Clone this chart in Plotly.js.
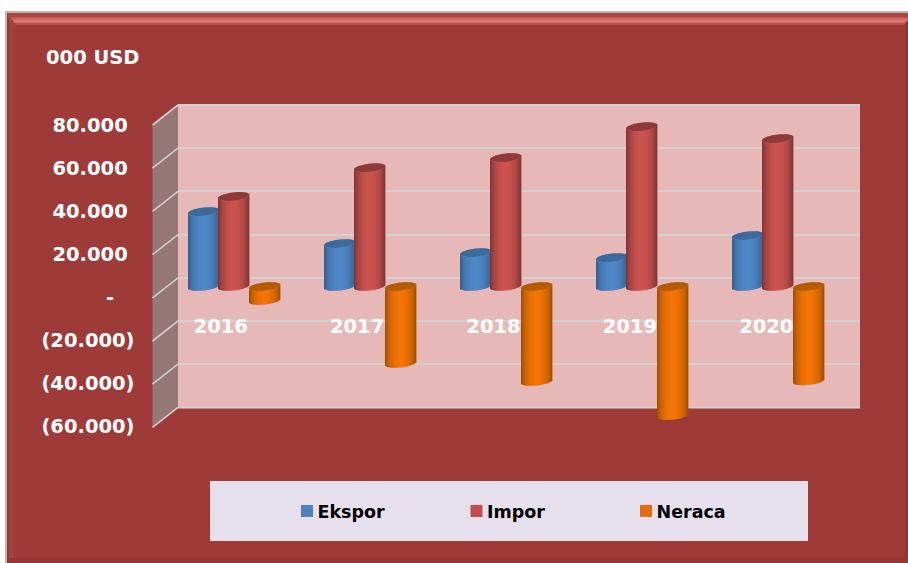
<!DOCTYPE html>
<html>
<head>
<meta charset="utf-8">
<script src="https://cdn.plot.ly/plotly-3.0.1.min.js"></script>
<style>html,body{margin:0;padding:0;background:#fff;overflow:hidden}</style>
</head>
<body>
<div id="chart" style="width:908px;height:563px"></div>
<script>
var years = ['2016', '2017', '2018', '2019', '2020'];
var ekspor = [34700, 19900, 15700, 13400, 23600];
var impor = [41700, 55000, 59700, 74000, 68500];
var neraca = [-6500, -35600, -44000, -59800, -43700];
var seriesNames = ['Ekspor', 'Impor', 'Neraca'];
var tickValues = [80000, 60000, 40000, 20000, 0, -20000, -40000, -60000];
var tickLabels = ['80.000', '60.000', '40.000', '20.000', '-', '(20.000)', '(40.000)', '(60.000)'];

var W = 908, H = 563;
function X(p) { return p / W; }
function Y(p) { return 1 - p / H; }
function domX(a, b) { return [X(a), X(b)]; }
function domY(top, bottom) { return [Y(bottom), Y(top)]; }

var FONT = '"DejaVu Sans", sans-serif';
var STEP = 136;
var STRIPS = 31;
var PER_PX = 20000 / 43.2;
var styles = [
  {main: '#4F81BD', dark: [50, 92, 138], light: [80, 135, 200], cap: [60, 106, 155], left: -46},
  {main: '#C0504D', dark: [122, 50, 48], light: [203, 82, 79], cap: [143, 58, 57], left: -16},
  {main: '#E46C0A', dark: [152, 76, 0], light: [244, 116, 5], cap: [180, 92, 2], left: 15}
];
var seriesValues = [ekspor, impor, neraca];

function rgb(c) { return 'rgb(' + c.map(Math.round).join(',') + ')'; }
function mix(a, b, t) { return a.map(function (v, i) { return v + (b[i] - v) * t; }); }

var traces = [];
seriesValues.forEach(function (vals, s) {
  var st = styles[s];
  // the series itself, carrying the legend entry; the strips below shade it as a cylinder
  traces.push({
    type: 'bar', name: seriesNames[s], x: years, y: vals, xaxis: 'x2', yaxis: 'y2',
    width: 18 / STEP, offset: (st.left + 6.5) / STEP,
    marker: {color: st.main, line: {width: 0}}, hoverinfo: 'skip'
  });
  for (var i = 0; i < STRIPS; i++) {
    var u = (i + 0.5) / STRIPS * 2 - 1;
    var edge = Math.sqrt(1 - u * u);
    var tilt = 1.7 * u, half = 4 * edge;
    var lo = (tilt - half) * PER_PX, hi = (tilt + half) * PER_PX;
    var tops = vals.map(function (v) { return Math.max(v, 0); });
    var bots = vals.map(function (v) { return Math.min(v, 0); });
    var off = (st.left + i) / STEP;
    var wid = 1.4 / STEP;
    traces.push({
      type: 'bar', showlegend: false, x: years, xaxis: 'x2', yaxis: 'y2',
      base: bots.map(function (b) { return b + lo; }),
      y: vals.map(function (v, j) { return tops[j] - bots[j]; }),
      width: wid, offset: off,
      marker: {color: rgb(mix(st.dark, st.light, Math.pow(edge, 1.6))), line: {width: 0}}, hoverinfo: 'skip'
    });
    traces.push({
      type: 'bar', showlegend: false, x: years, xaxis: 'x2', yaxis: 'y2',
      base: tops.map(function (t) { return t + lo; }),
      y: vals.map(function () { return hi - lo; }),
      width: wid, offset: off,
      marker: {color: rgb(mix(st.cap, st.dark, 0.35 * (1 - edge))), line: {width: 0}}, hoverinfo: 'skip'
    });
  }
});
// anchors the front-plane axes that carry the tick labels
traces.push({type: 'scatter', mode: 'none', showlegend: false, x: years, y: years.map(function () { return 0; }),
  xaxis: 'x3', yaxis: 'y3', hoverinfo: 'skip'});
traces.push({type: 'scatter', mode: 'none', showlegend: false, x: [0, 1], y: [0, 0],
  xaxis: 'x', yaxis: 'y', hoverinfo: 'skip'});

function rect(x0, y0, x1, y1, color) {
  return {type: 'rect', layer: 'below', xref: 'paper', yref: 'paper', x0: X(x0), x1: X(x1), y0: Y(y0), y1: Y(y1),
    fillcolor: color, line: {width: 0}};
}
function poly(pts, color) {
  var d = pts.map(function (p, i) { return (i ? 'L' : 'M') + X(p[0]) + ' ' + Y(p[1]); }).join(' ') + ' Z';
  return {type: 'path', layer: 'below', xref: 'paper', yref: 'paper', path: d, fillcolor: color, line: {width: 0}};
}
function hline(x0, x1, py) {
  return {type: 'line', layer: 'below', xref: 'paper', yref: 'paper', x0: X(x0), x1: X(x1), y0: Y(py), y1: Y(py),
    line: {color: '#D4D0D0', width: 2}};
}

var BACK_TOP = 105, BACK_BOT = 407.4, FRONT_TOP = 125, FRONT_BOT = 427.4, BACK_X = 178, FRONT_X = 152.5;
var shapes = [
  rect(5, 11, W, H, '#BDB8B8'),
  rect(7, 13, W, H, '#9E3B39'),
  // bevel
  poly([[7, 13], [W, 13], [W, 17], [7, 17]], '#A94644'),
  poly([[9, 17], [W, 17], [W, 19], [11, 19]], '#C35B59'),
  poly([[11, 19], [W, 19], [W, 23], [14, 23]], '#DA716F'),
  poly([[14, 23], [W - 3, 23], [W - 4, 25], [16, 25]], '#B3504E'),
  poly([[7, 13], [10, 17], [16, 25], [14, 30], [14, H - 5], [7, H]], '#A34341'),
  poly([[7, 17], [9, 20], [9, H - 2], [7, H]], '#973835'),
  poly([[7, H - 5], [W, H - 5], [W, H], [7, H]], '#933735'),
  poly([[W - 3, 23], [W, 20], [W, H], [W - 3, H - 5]], '#933735'),
  // walls
  rect(BACK_X, BACK_TOP, 860, BACK_BOT, '#E6B9B8'),
  poly([[FRONT_X, FRONT_TOP], [BACK_X, BACK_TOP], [BACK_X, BACK_BOT], [FRONT_X, FRONT_BOT]], '#957775'),
  hline(BACK_X, 860, BACK_TOP),
  hline(BACK_X, 860, BACK_BOT),
  // legend panel
  rect(210, 481, 808, 541, '#E6E0EC')
];
tickValues.forEach(function (v) {
  var t = (80000 - v) / 140000;
  shapes.push({type: 'line', layer: 'below', xref: 'paper', yref: 'paper',
    x0: X(FRONT_X), x1: X(BACK_X),
    y0: Y(FRONT_TOP + t * (FRONT_BOT - FRONT_TOP)), y1: Y(BACK_TOP + t * (BACK_BOT - BACK_TOP)),
    line: {color: '#D0CCCC', width: 1.6}});
});

// accounting-style labels: digits and the dash leave room for the closing bracket
function padLabel(t) {
  if (t === '-') return t + '\u00A0\u00A0\u00A0';
  return t.charAt(0) === '(' ? t : t + '\u00A0';
}

var tickFont = {family: FONT, size: 19.5, color: '#FFFFFF', weight: 700};
var layout = {
  width: W, height: H, autosize: false,
  margin: {l: 0, r: 0, t: 0, b: 0, pad: 0},
  paper_bgcolor: '#FFFFFF', plot_bgcolor: 'rgba(0,0,0,0)',
  barmode: 'overlay', hovermode: false, shapes: shapes,
  title: {text: '000 USD', x: X(46), xanchor: 'left', xref: 'paper', y: Y(57), yanchor: 'middle', yref: 'paper',
    font: {family: FONT, size: 19.5, color: '#FFFFFF', weight: 700}, pad: {t: 0, b: 0, l: 0, r: 0}},
  xaxis: {domain: domX(BACK_X, 860), range: [0, 1], visible: false, anchor: 'y', fixedrange: true},
  yaxis: {domain: domY(BACK_TOP, BACK_BOT), range: [-60000, 80000], tickmode: 'array', tickvals: tickValues,
    showticklabels: false, ticks: '', showgrid: true, gridcolor: '#D4D0D0', gridwidth: 2, zeroline: false,
    showline: false, anchor: 'x', fixedrange: true},
  xaxis2: {domain: domX(166, 846), type: 'category', categoryorder: 'array', categoryarray: years,
    range: [-0.5, 4.5], visible: false, anchor: 'y2', fixedrange: true},
  yaxis2: {domain: domY(70.5, 459.3), range: [-80000, 100000], visible: false, anchor: 'x2', fixedrange: true},
  xaxis3: {domain: domX(152.5, 834.5), type: 'category', categoryorder: 'array', categoryarray: years,
    range: [-0.5, 4.5], anchor: 'free', position: Y(312), side: 'bottom', ticks: '', showline: false, showgrid: false,
    zeroline: false, tickfont: tickFont, fixedrange: true},
  yaxis3: {domain: domY(125.5, 426.5), range: [-60000, 80000], tickmode: 'array', tickvals: tickValues,
    ticktext: tickLabels.map(padLabel), anchor: 'free', position: X(134.5), side: 'left', ticks: '', showline: false, showgrid: false,
    zeroline: false, tickfont: tickFont, fixedrange: true},
  legend: {orientation: 'h', x: X(277.5), xanchor: 'left', y: Y(511), yanchor: 'middle',
    entrywidth: 124.5, entrywidthmode: 'pixels', bgcolor: 'rgba(0,0,0,0)', traceorder: 'normal', itemclick: false, itemdoubleclick: false,
    font: {family: FONT, size: 17.5, color: '#000000', weight: 700}}
};
Plotly.newPlot('chart', traces, layout, {displayModeBar: false, responsive: false, staticPlot: true}).then(function () {
  // the reference keeps each legend swatch close to its label
  document.querySelectorAll('.legendsymbols').forEach(function (g) {
    g.setAttribute('transform', 'translate(9.5,0)');
  });
});
</script>
</body>
</html>
